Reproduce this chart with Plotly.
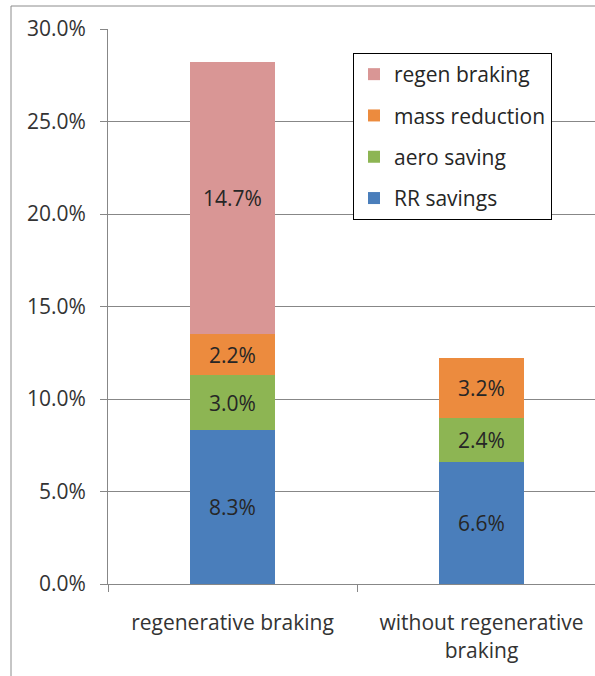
import plotly.graph_objects as go

categories = ["regenerative braking", "without regenerative<br>braking"]
series_names = ["RR savings", "aero saving", "mass reduction", "regen braking"]
rr_savings = [8.3, 6.6]
aero_saving = [3.0, 2.4]
mass_reduction = [2.2, 3.2]
regen_braking = [14.7, None]
y_ticks = [0, 5, 10, 15, 20, 25, 30]
y_tick_labels = ["0.0%", "5.0%", "10.0%", "15.0%", "20.0%", "25.0%", "30.0%"]

colors = ["#4A7EBB", "#8DB553", "#EC8B3E", "#D99695"]
series_values = [rr_savings, aero_saving, mass_reduction, regen_braking]

FONT = "Open Sans"
FS = 21
W, H = 595, 676
L, T, B, R = 108, 29, 92, 0
pw = W - L - R
ph = H - T - B

fig = go.Figure()
for i, (name, vals, col) in enumerate(zip(series_names, series_values, colors)):
    fig.add_trace(go.Bar(
        x=categories, y=vals, name=name,
        marker=dict(color=col, line=dict(width=0)),
        width=0.34,
        text=[("%.1f%%" % v) if v is not None else "" for v in vals],
        textposition="inside", insidetextanchor="middle",
        constraintext="none",
        textfont=dict(family=FONT, size=FS, color="#262626"),
        legendgroup=name,
        legendrank=4 - i,
        hoverinfo="skip",
    ))

fig.update_layout(
    width=W, height=H,
    margin=dict(l=L, r=R, t=T, b=B),
    barmode="stack",
    bargap=0,
    plot_bgcolor="white", paper_bgcolor="white",
    font=dict(family=FONT, size=FS, color="#333333"),
    showlegend=True,
    legend=dict(
        x=(353 - L) / pw, y=(H - B - 53) / ph, xanchor="left", yanchor="top",
        bgcolor="white", bordercolor="black", borderwidth=1,
        traceorder="grouped", tracegroupgap=11,
        font=dict(family=FONT, size=FS, color="#262626"),
        itemwidth=30,
    ),
    xaxis=dict(
        type="category", range=[-0.5, -0.5 + pw / 249],
        showline=True, linecolor="#878787", linewidth=1,
        ticks="outside", tickson="boundaries", ticklen=7, tickcolor="#878787",
        tickfont=dict(family=FONT, size=FS, color="#333333"),
        ticklabelstandoff=20,
        showgrid=False, zeroline=False,
    ),
    yaxis=dict(
        range=[0, 30], tickvals=y_ticks, ticktext=y_tick_labels,
        showline=True, linecolor="#878787", linewidth=1,
        ticks="outside", ticklen=7, tickcolor="#878787",
        showgrid=True, gridcolor="#878787", gridwidth=1,
        zeroline=False,
        tickfont=dict(family=FONT, size=FS, color="#333333"),
        ticklabelstandoff=10,
    ),
    shapes=[dict(
        type="rect", xref="paper", yref="paper",
        x0=(11 - L) / pw, x1=1.02, y0=(H - B - 690) / ph, y1=(H - B - 6) / ph,
        line=dict(color="#8C8C8C", width=1), fillcolor="rgba(0,0,0,0)", layer="below",
    )],
)

fig.write_html(
    "out.html",
    config={"displayModeBar": False},
    post_script="document.body.style.margin='0';document.body.style.overflow='hidden';",
)
